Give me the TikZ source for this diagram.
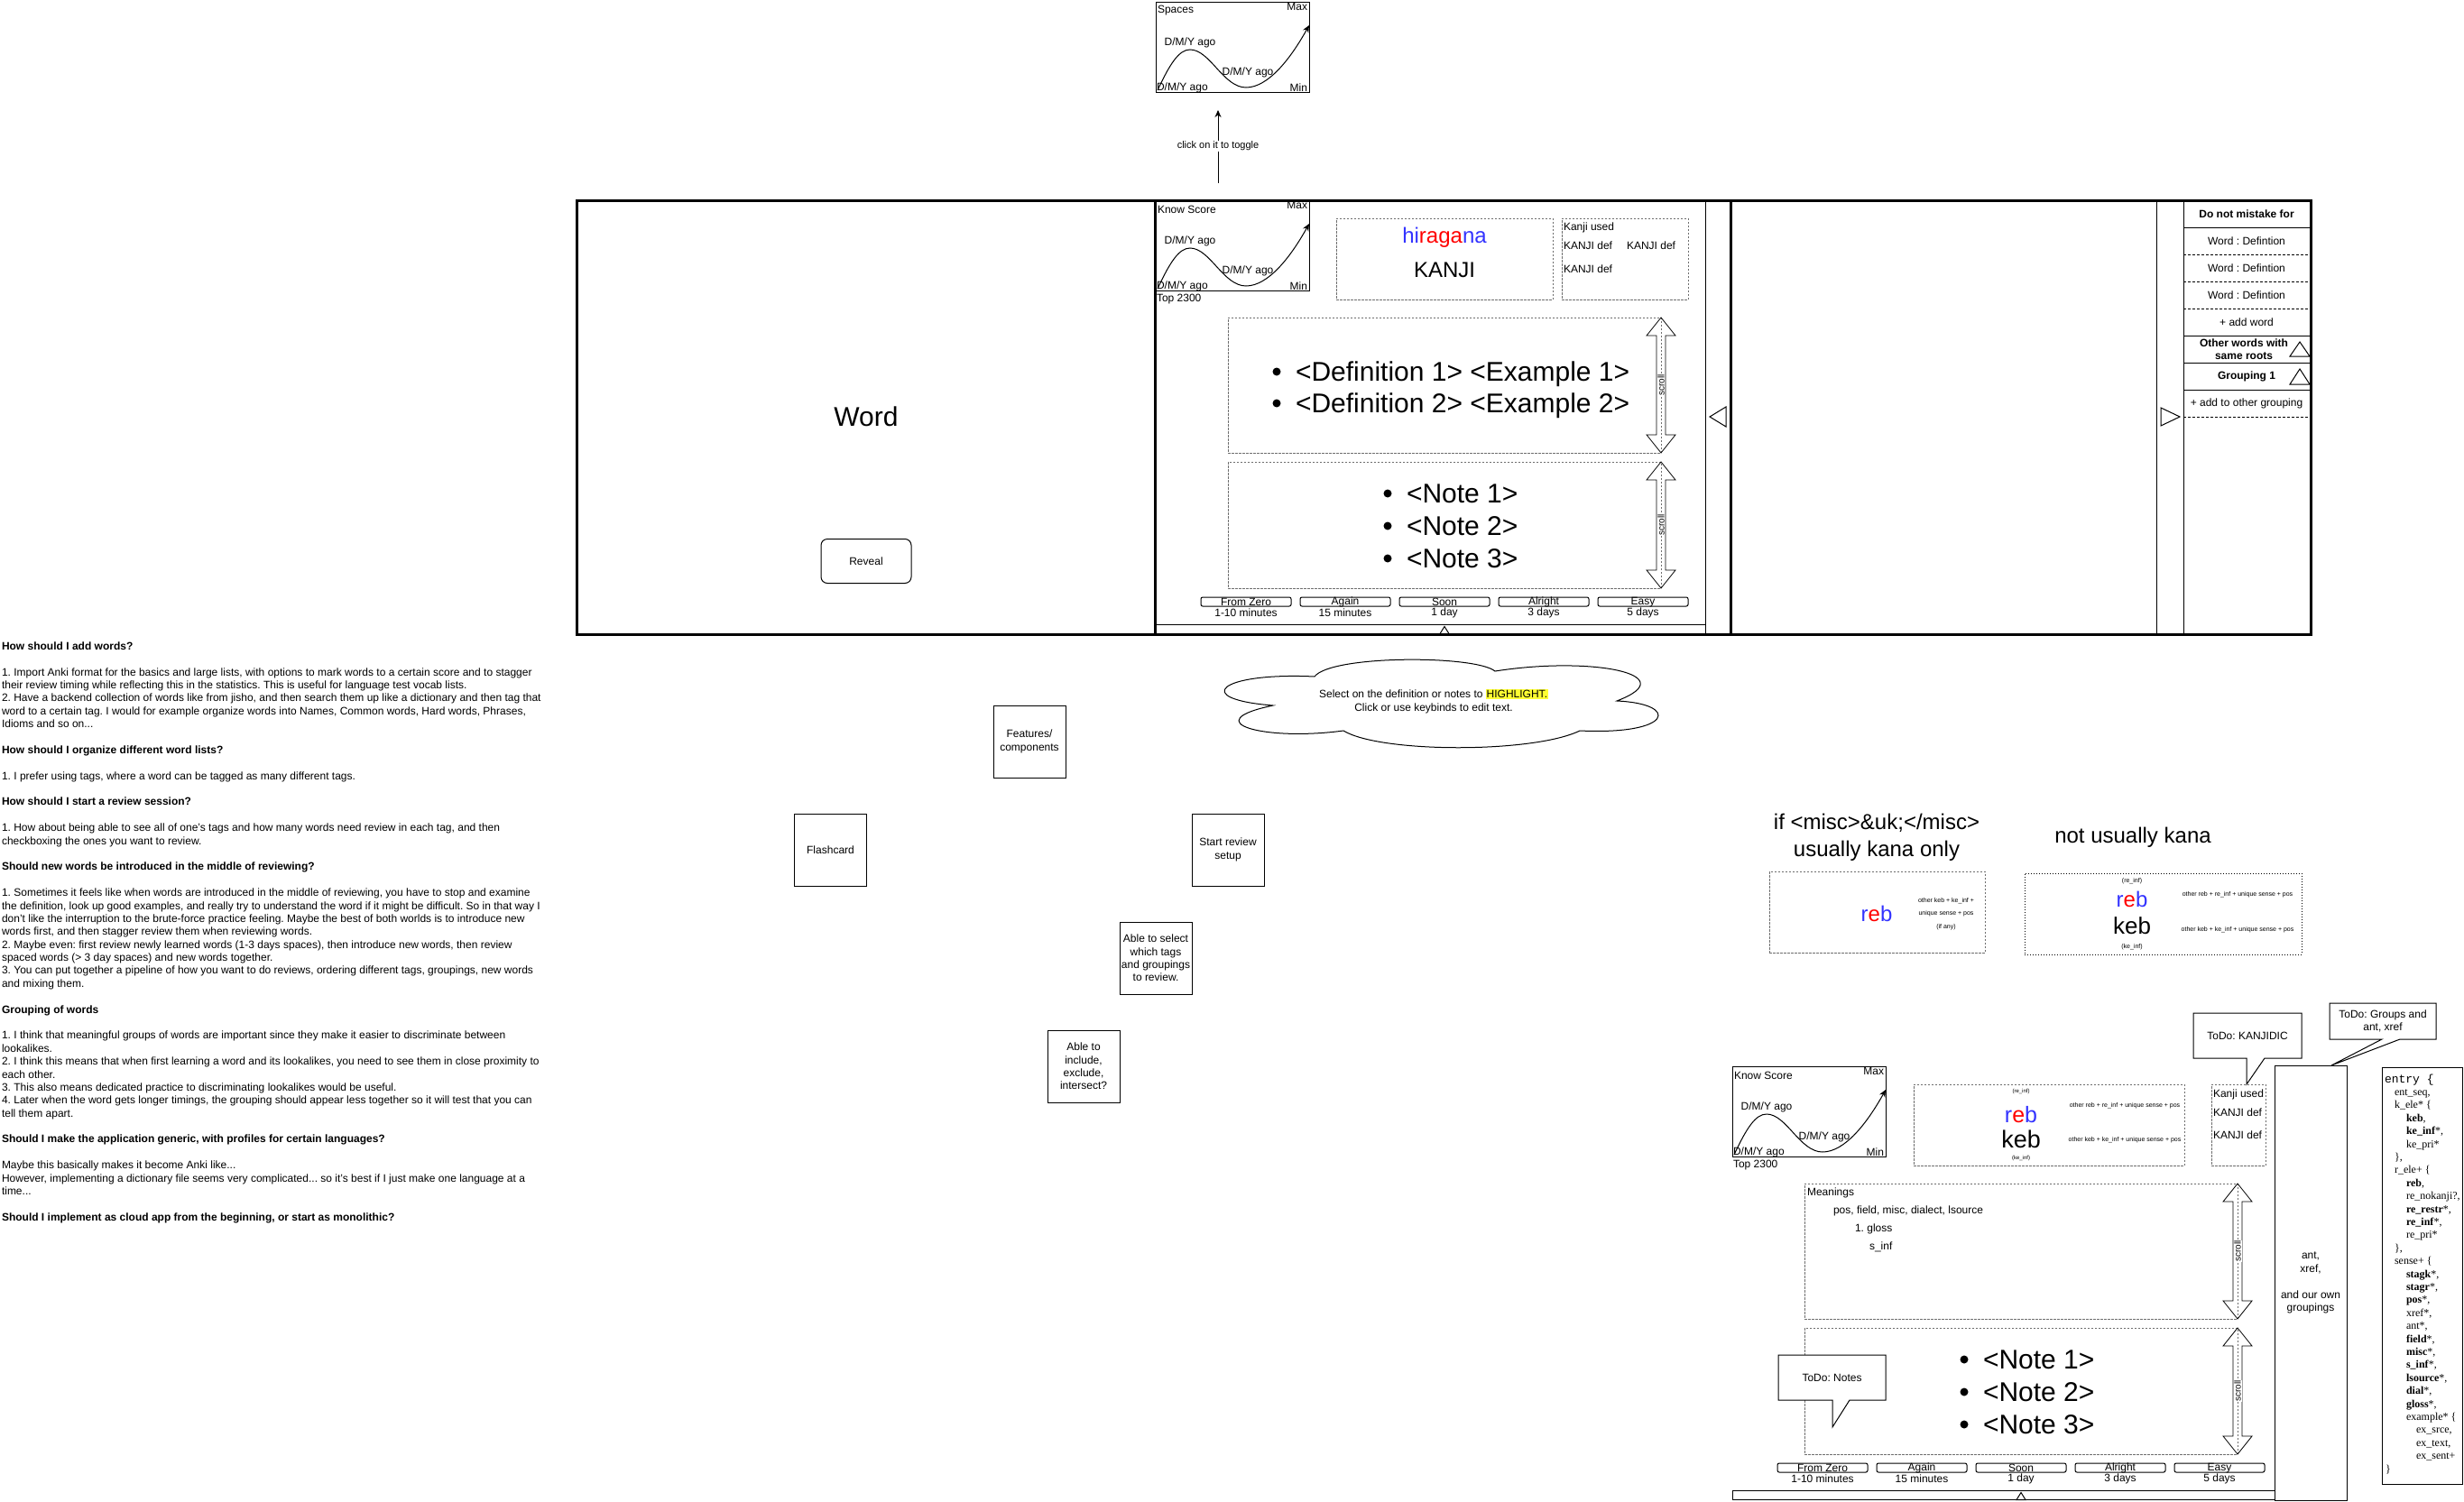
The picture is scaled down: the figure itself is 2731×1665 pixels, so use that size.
\documentclass[tikz,border=0pt]{standalone}
\usepackage{fontspec}
\setmainfont{Liberation Sans}
\newfontfamily\codeserif{Liberation Serif}
\newfontfamily\codemono{Liberation Mono}
\usetikzlibrary{arrows.meta}
\definecolor{hblue}{RGB}{51,51,255}
\definecolor{hred}{RGB}{255,0,0}
\definecolor{hlyellow}{RGB}{255,255,51}
\definecolor{dashgray}{RGB}{110,110,110}
\setlength{\fboxsep}{0.8pt}
\frenchspacing
\newcommand\fsz[2]{\fontsize{#1}{#2}\selectfont}
\tikzset{
  every node/.style={inner sep=0pt, outer sep=0pt},
  txt/.style={font=\fsz{12}{14.4}},
  lt/.style={anchor=base west, font=\fsz{12}{14.4}},
  dbox/.style={draw=dashgray, line width=0.8pt, dash pattern=on 2.5pt off 1.5pt},
  arr/.style={-{Stealth[length=8pt,width=7pt]}},
  flow/.style={draw, minimum width=80pt, minimum height=80pt, align=center, font=\fsz{12}{14.4}},
  big/.style={font=\fsz{30}{36}},
  tiny/.style={font=\fsz{7}{8.4}},
  sdash/.style={dash pattern=on 3pt off 2pt}
}
\newcommand\scrollarrow[4]{%
\draw[line width=0.8pt] (#1,#2) -- ({#1+16},{#2+20}) -- ({#1+5},{#2+20}) -- ({#1+5},{#3-20}) -- ({#1+16},{#3-20}) -- (#1,#3) -- ({#1-16},{#3-20}) -- ({#1-5},{#3-20}) -- ({#1-5},{#2+20}) -- ({#1-16},{#2+20}) -- cycle;
\node[fill=white, rotate=90, font=\fsz{10}{12}, inner sep=0.8pt] (#4) at (#1,{(#2+#3)/2}) {scroll};}
\newcommand\scorebox[3]{%
\begin{scope}[shift={#1}]
\node[draw, minimum width=170pt, minimum height=100pt, anchor=north west] (#3box) at (0,0) {};
\node[anchor=west, txt] (#3title) at (2,10) {#2};
\node[anchor=east, txt] (#3max) at (168,5) {Max};
\node[txt] (#3d1) at (38,45) {D/M/Y ago};
\node[txt] (#3d2) at (102,78) {D/M/Y ago};
\node[anchor=west, txt] (#3d3) at (1,95) {D/M/Y ago};
\node[anchor=east, txt] (#3min) at (168,95) {Min};
\draw[arr] (2,98) .. controls (16,68) and (26,53) .. (38,53) .. controls (60,53) and (75,95) .. (100,95) .. controls (125,95) and (150,62) .. (170,26);
\end{scope}}
\newcommand\cardbody[2]{%
\begin{scope}[shift={#1}]
\node[dbox, minimum width=480pt, minimum height=150pt, anchor=north west] (#2up) at (80,130) {};
\node[dbox, minimum width=480pt, minimum height=140pt, anchor=north west] (#2nt) at (80,290) {};
\foreach \k/\yy in {1/325,2/361,3/397}{
  \fill (257,\yy) circle (4.5pt);
  \node[anchor=base west, big] (#2note\k) at (278,{\yy+10.7}) {<Note \k>};
}
\scrollarrow{560}{130}{280}{#2sca}
\scrollarrow{560}{290}{430}{#2scb}
\foreach \i/\btop/\bbot in {0/From Zero/1-10 minutes,1/Again/15 minutes,2/Soon/1 day,3/Alright/3 days,4/Easy/5 days}{
  \node[txt] (#2bt\i) at ({100+110*\i},445.5) {\btop};
  \node[draw, rounded corners=2pt, minimum width=100pt, minimum height=10pt] (#2b\i) at ({100+110*\i},445) {};
  \node[txt] (#2bb\i) at ({100+110*\i},457) {\bbot};
}
\draw (0,470) rectangle (609,480.5);
\draw (315,480.5) -- (325,480.5) -- (320,472.5) -- cycle;
\end{scope}}
\begin{document}
\begin{tikzpicture}[x=1pt,y=-1pt,line width=1pt]
\useasboundingbox (0,0) rectangle (2731,1665);
\fill[white] (0,0) rectangle (2731,1665);

% ---------- top spaces box ----------
\scorebox{(1281,2)}{Spaces}{sp}
\coordinate (clkS) at (1350,203);
\coordinate (clkE) at (1350,122);
\draw[arr] (clkS) -- (clkE);
\node[fill=white, font=\fsz{11}{13}, inner sep=1pt] (clk) at (1350,162) {click on it to toggle};

% ---------- main frame ----------
\draw[line width=3pt] (639,222) rectangle (2561,703);
\draw[line width=3pt] (1280,222) -- (1280,703);
\draw[line width=3pt] (1918,222) -- (1918,703);
\draw (1890,222) -- (1890,703);
\draw (2390,222) -- (2390,703);
\draw (2420,222) -- (2420,703);
\draw (1913,451) -- (1895,462) -- (1913,473) -- cycle;
\draw (2395,452) -- (2416,462) -- (2395,472) -- cycle;

% word panel
\node[big] (word) at (960,462) {Word};
\node[draw, rounded corners=7pt, minimum width=100pt, minimum height=49pt, txt] (reveal) at (960,622) {Reveal};

% center card
\scorebox{(1281,222)}{Know Score}{ka}
\node[anchor=west, txt] (katop) at (1282,332) {Top 2300};
\cardbody{(1281,222)}{ca}
\node[dbox, minimum width=240pt, minimum height=90pt, anchor=north west] (hirabox) at (1481,242) {};
\node[font=\fsz{24}{28}] (hira) at (1601,263) {\textcolor{hblue}{hi}\textcolor{hred}{raga}\textcolor{hblue}{na}};
\node[font=\fsz{24}{28}] (kanji) at (1601,299) {KANJI};
\node[dbox, minimum width=140pt, minimum height=90pt, anchor=north west] (kubox) at (1731,242) {};
\node[anchor=west, txt] (ku1) at (1733,252) {Kanji used};
\node[anchor=west, txt] (ku2) at (1733,272) {KANJI def};
\node[anchor=west, txt] (ku3) at (1803,272) {KANJI def};
\node[anchor=west, txt] (ku4) at (1733,298) {KANJI def};
\fill (1415,412) circle (4.5pt);
\fill (1415,447) circle (4.5pt);
\node[anchor=base west, big] (def1) at (1436,422.7) {<Definition 1> <Example 1>};
\node[anchor=base west, big] (def2) at (1436,457.7) {<Definition 2> <Example 2>};

% side list
\node[txt, font=\fsz{12}{14.4}\bfseries] (dnm) at (2490,237) {Do not mistake for};
\node[txt] (wd1) at (2490,267) {Word : Defintion};
\node[txt] (wd2) at (2490,297) {Word : Defintion};
\node[txt] (wd3) at (2490,327) {Word : Defintion};
\node[txt] (addw) at (2490,357) {+ add word};
\node[txt, font=\fsz{12}{14.4}\bfseries, align=center] (owr) at (2487,387) {Other words with\\same roots};
\node[txt, font=\fsz{12}{14.4}\bfseries] (grp) at (2490,417) {Grouping 1};
\node[txt] (aog) at (2490,447) {+ add to other grouping};
\draw (2420,252) -- (2561,252);
\draw[sdash] (2420,282) -- (2561,282);
\draw[sdash] (2420,312) -- (2561,312);
\draw[sdash] (2420,342) -- (2561,342);
\draw (2420,372) -- (2561,372);
\draw (2420,402) -- (2561,402);
\draw (2420,432) -- (2561,432);
\draw[sdash] (2420,462) -- (2561,462);
\draw (2538,395) -- (2560,395) -- (2549,379) -- cycle;
\draw (2538,426) -- (2560,426) -- (2549,409) -- cycle;

% cloud
\draw (1457,750) .. controls (1475,726) and (1635,726) .. (1657,744)
 .. controls (1765,727) and (1868,748) .. (1792,777)
 .. controls (1862,780) and (1855,815) .. (1751,810)
 .. controls (1700,835) and (1530,835) .. (1489,810)
 .. controls (1400,822) and (1325,800) .. (1411,782)
 .. controls (1320,775) and (1350,745) .. (1457,750) -- cycle;
\node[txt, align=center] (cloudtxt) at (1589,777.5) {Select on the definition or notes to \colorbox{hlyellow}{HIGHLIGHT.}\\Click or use keybinds to edit text.};

% flow boxes
\node[flow] (flash) at (920.5,942) {Flashcard};
\node[flow] (feat) at (1141,822) {Features/\\components};
\node[flow] (start) at (1361,942) {Start review\\setup};
\node[flow] (sel) at (1281,1062) {Able to select\\which tags\\and groupings\\to review.};
\node[flow] (incl) at (1201,1182) {Able to\\include,\\exclude,\\intersect?};

% left text
\foreach \k/\t in {
0/{\bfseries How should I add words?},
2/{1. Import Anki format for the basics and large lists, with options to mark words to a certain score and to stagger},
3/{their review timing while reflecting this in the statistics. This is useful for language test vocab lists.},
4/{2. Have a backend collection of words like from jisho, and then search them up like a dictionary and then tag that},
5/{word to a certain tag. I would for example organize words into Names, Common words, Hard words, Phrases,},
6/{Idioms and so on...},
8/{\bfseries How should I organize different word lists?},
10/{1. I prefer using tags, where a word can be tagged as many different tags.},
12/{\bfseries How should I start a review session?},
14/{1. How about being able to see all of one's tags and how many words need review in each tag, and then},
15/{checkboxing the ones you want to review.},
17/{\bfseries Should new words be introduced in the middle of reviewing?},
19/{1. Sometimes it feels like when words are introduced in the middle of reviewing, you have to stop and examine},
20/{the definition, look up good examples, and really try to understand the word if it might be difficult. So in that way I},
21/{don't like the interruption to the brute-force practice feeling. Maybe the best of both worlds is to introduce new},
22/{words first, and then stagger review them when reviewing words.},
23/{2. Maybe even: first review newly learned words (1-3 days spaces), then introduce new words, then review},
24/{spaced words (> 3 day spaces) and new words together.},
25/{3. You can put together a pipeline of how you want to do reviews, ordering different tags, groupings, new words},
26/{and mixing them.},
28/{\bfseries Grouping of words},
30/{1. I think that meaningful groups of words are important since they make it easier to discriminate between},
31/{lookalikes.},
32/{2. I think this means that when first learning a word and its lookalikes, you need to see them in close proximity to},
33/{each other.},
34/{3. This also means dedicated practice to discriminating lookalikes would be useful.},
35/{4. Later when the word gets longer timings, the grouping should appear less together so it will test that you can},
36/{tell them apart.},
38/{\bfseries Should I make the application generic, with profiles for certain languages?},
40/{Maybe this basically makes it become Anki like...},
41/{However, implementing a dictionary file seems very complicated... so it's best if I just make one language at a},
42/{time...},
44/{\bfseries Should I implement as cloud app from the beginning, or start as monolithic?}
}{\node[lt] (lt\k) at (2,{720.3+14.386*\k}) {\t};}

% kana region
\node[font=\fsz{24}{30}, align=center] (ifmisc) at (2080,928) {if <misc>\&uk;</misc>\\usually kana only};
\node[font=\fsz{24}{30}] (notkana) at (2364,928) {not usually kana};
\node[dbox, minimum width=239pt, minimum height=90pt, anchor=north west] (kbx1) at (1961,966) {};
\node[font=\fsz{24}{28}] (reb1) at (2080,1013) {\textcolor{hblue}{r}\textcolor{hred}{e}\textcolor{hblue}{b}};
\node[font=\fsz{7}{14.5}, align=center] (kbx1t) at (2157,1013) {other keb + ke\_inf +\\unique sense + pos\\(if any)};
\node[draw, dotted, minimum width=307pt, minimum height=90pt, anchor=north west] (kbx2) at (2244,968) {};
\node[tiny] (kbx2a) at (2363,977) {(re\_inf)};
\node[font=\fsz{24}{28}] (reb2) at (2363,997) {\textcolor{hblue}{r}\textcolor{hred}{e}\textcolor{hblue}{b}};
\node[font=\fsz{26}{30}] (keb2) at (2363,1026) {keb};
\node[tiny] (kbx2b) at (2363,1050) {(ke\_inf)};
\node[tiny] (kbx2c) at (2480,992) {other reb + re\_inf + unique sense + pos};
\node[tiny] (kbx2d) at (2480,1031) {other keb + ke\_inf + unique sense + pos};

% second card
\scorebox{(1920,1182)}{Know Score}{kb}
\node[anchor=west, txt] (kbtop) at (1921,1292) {Top 2300};
\cardbody{(1920,1182)}{cb}
\node[anchor=west, txt] (mn1) at (2003,1322) {Meanings};
\node[anchor=west, txt] (mn2) at (2032,1342) {pos, field, misc, dialect, lsource};
\node[anchor=west, txt] (mn3) at (2056,1362) {1. gloss};
\node[anchor=west, txt] (mn4) at (2072,1382) {s\_inf};
\node[dbox, minimum width=300pt, minimum height=90pt, anchor=north west] (rkbox) at (2121,1202) {};
\node[font=\fsz{6}{7}] (rk1) at (2240,1210) {(re\_inf)};
\node[font=\fsz{25}{28}] (rk2) at (2240,1236) {\textcolor{hblue}{r}\textcolor{hred}{e}\textcolor{hblue}{b}};
\node[font=\fsz{27}{30}] (rk3) at (2240,1263) {keb};
\node[font=\fsz{6}{7}] (rk4) at (2240,1284) {(ke\_inf)};
\node[tiny] (rk5) at (2355,1226) {other reb + re\_inf + unique sense + pos};
\node[tiny] (rk6) at (2355,1264) {other keb + ke\_inf + unique sense + pos};
\node[dbox, minimum width=60pt, minimum height=90pt, anchor=north west] (kubox2) at (2451,1202) {};
\node[anchor=west, txt] (kv1) at (2453,1213) {Kanji used};
\node[anchor=west, txt] (kv2) at (2453,1233) {KANJI def};
\node[anchor=west, txt] (kv3) at (2453,1258) {KANJI def};

% callouts
\draw[fill=white] (1971,1502) -- (2090,1502) -- (2090,1552) -- (2050,1552) -- (2031,1582) -- (2031,1552) -- (1971,1552) -- cycle;
\node[txt] (todonotes) at (2030.5,1527) {ToDo: Notes};
\draw[fill=white] (2431,1123) -- (2551,1123) -- (2551,1173) -- (2510,1173) -- (2490,1202) -- (2490,1173) -- (2431,1173) -- cycle;
\node[txt] (todokanji) at (2491,1148) {ToDo: KANJIDIC};

% ant box
\node[draw, fill=white, minimum width=80pt, minimum height=482pt, anchor=north west, align=center, txt] (antbox) at (2521,1181) {ant,\\xref,\\[14.4pt]and our own\\groupings};
\draw[fill=white] (2582,1112) -- (2700,1112) -- (2700,1152) -- (2660,1152) -- (2584,1181) -- (2640,1152) -- (2582,1152) -- cycle;
\node[txt, align=center] (todogroups) at (2641,1132) {ToDo: Groups and\\ant, xref};

% entry code box
\node[draw, minimum width=89pt, minimum height=462pt, anchor=north west] (entrybox) at (2640,1183) {};
\foreach \k/\xx/\t in {
0/2643/{\codemono\fsz{13}{14.4}entry \{},
1/2654/{ent\_seq,},
2/2654/{k\_ele* \{},
3/2667/{\textbf{keb},},
4/2667/{\textbf{ke\_inf}*,},
5/2667/{ke\_pri*},
6/2654/{\},},
7/2654/{r\_ele+ \{},
8/2667/{\textbf{reb},},
9/2667/{re\_nokanji?,},
10/2667/{\textbf{re\_restr}*,},
11/2667/{\textbf{re\_inf}*,},
12/2667/{re\_pri*},
13/2654/{\},},
14/2654/{sense+ \{},
15/2667/{\textbf{stagk}*,},
16/2667/{\textbf{stagr}*,},
17/2667/{\textbf{pos}*,},
18/2667/{xref*,},
19/2667/{ant*,},
20/2667/{\textbf{field}*,},
21/2667/{\textbf{misc}*,},
22/2667/{\textbf{s\_inf}*,},
23/2667/{\textbf{lsource}*,},
24/2667/{\textbf{dial}*,},
25/2667/{\textbf{gloss}*,},
26/2667/{example* \{},
27/2678/{ex\_srce,},
28/2678/{ex\_text,},
29/2678/{ex\_sent+},
30/2644/{\}}
}{\node[anchor=base west, font=\codeserif\fsz{12}{14.4}] (code\k) at (\xx,{1200+14.4*\k}) {\t};}
\end{tikzpicture}
\end{document}
